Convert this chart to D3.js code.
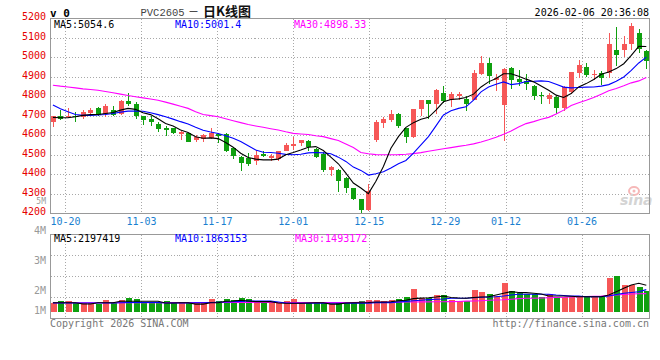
<!DOCTYPE html>
<html><head><meta charset="utf-8">
<script src="https://cdn.jsdelivr.net/npm/d3@7"></script>
<style>body{margin:0;background:#fff}svg{display:block}</style>
</head><body><svg id="c" width="660" height="360"></svg>
<script>
const dates = ["10-16","10-17","10-20","10-21","10-22","10-23","10-24","10-27","10-28","10-29","10-30","10-31",
"11-03","11-04","11-05","11-06","11-07","11-10","11-11","11-12","11-13","11-14","11-17","11-18","11-19","11-20","11-21","11-24","11-25","11-26","11-27","11-28",
"12-01","12-02","12-03","12-04","12-05","12-08","12-09","12-10","12-11","12-12","12-15","12-16","12-17","12-18","12-19","12-22","12-23","12-24","12-25","12-26","12-29","12-30","12-31",
"01-05","01-06","01-07","01-08","01-09","01-12","01-13","01-14","01-15","01-16","01-19","01-20","01-21","01-22","01-23","01-26","01-27","01-28","01-29","01-30",
"02-02","02-03","02-04","02-05","02-06"];
const open = [4670,4700,4692,4700,4695,4715,4740,4707,4728,4707, 4777,4763,4698,4685,4660,4640,4635,4605,4610,4576, 4580,4585,4605,4605,4535,4490,4482,4468,4502,4483, 4478,4520,4547,4560,4570,4528,4506,4420,4420,4383, 4330,4275,4215,4577,4662,4678,4708,4636,4592,4733, 4780,4758,4818,4780,4800,4785,4783,4913,4972,4883, 4755,4945,4890,4880,4855,4808,4788,4797,4742,4823, 4920,4950,4912,4920,4920,5040,5035,5070,5127,5030];
const high = [4700,4730,4740,4722,4728,4742,4745,4760,4748,4780, 4815,4770,4700,4700,4666,4648,4640,4620,4613,4600, 4608,4636,4610,4610,4540,4492,4508,4525,4520,4502, 4520,4558,4590,4577,4577,4533,4512,4445,4428,4386, 4330,4275,4348,4678,4695,4728,4712,4640,4737,4783, 4783,4840,4852,4823,4823,4800,4937,5005,4996,4916, 4945,4950,4936,4916,4858,4823,4815,4803,4852,4926, 4986,4972,4936,4928,5127,5155,5107,5177,5147,5040];
const low = [4645,4677,4690,4670,4685,4707,4698,4694,4698,4703, 4750,4683,4655,4650,4618,4598,4605,4576,4568,4568, 4568,4580,4562,4512,4478,4415,4444,4447,4488,4470, 4470,4520,4525,4543,4518,4482,4410,4392,4310,4305, 4270,4200,4212,4568,4640,4670,4636,4563,4588,4697, 4685,4707,4764,4743,4780,4725,4780,4908,4865,4828, 4573,4840,4854,4832,4780,4762,4763,4708,4724,4813, 4895,4897,4882,4857,4895,4955,5000,5035,5023,4940];
const close = [4697,4683,4700,4692,4717,4732,4706,4750,4706,4775, 4760,4700,4678,4670,4632,4628,4610,4617,4568,4590, 4600,4610,4597,4520,4495,4456,4454,4500,4493,4495, 4517,4550,4556,4577,4540,4490,4423,4437,4364,4328, 4274,4215,4313,4670,4683,4708,4650,4590,4737,4780, 4758,4831,4776,4811,4812,4760,4920,4972,4905,4896, 4942,4882,4872,4865,4800,4800,4806,4742,4848,4923, 4960,4910,4916,4895,5066,5012,5070,5158,5044,4980];
const ma5 = [4692,4690,4690,4695,4702,4706,4707,4712,4717,4729, 4738,4733,4716,4706,4685,4661,4648,4627,4614,4593, 4585,4587,4583,4563,4539,4508,4486,4478,4474,4474, 4478,4500,4512,4525,4539,4542,4522,4488,4454,4406, 4355,4330,4301,4364,4440,4534,4593,4641,4665,4682, 4692,4729,4772,4784,4787,4794,4811,4848,4874,4891, 4916,4916,4903,4888,4874,4853,4831,4806,4794,4814, 4848,4865,4886,4913,4925,4942,4967,5010,5056,5055];
const ma10 = [4755,4736,4721,4707,4702,4702,4704,4707,4712,4719, 4724,4724,4723,4716,4706,4695,4683,4670,4658,4641, 4626,4617,4609,4598,4585,4568,4546,4525,4513,4512, 4508,4502,4500,4503,4510,4512,4510,4505,4488,4466, 4437,4420,4396,4403,4413,4432,4454,4471,4508,4551, 4593,4648,4704,4726,4738,4746,4780,4823,4848,4862, 4874,4860,4865,4876,4877,4879,4876,4862,4847,4843, 4845,4847,4848,4852,4860,4877,4899,4933,4971,5001];
const ma30 = [4857,4852,4848,4843,4838,4835,4831,4825,4818,4811, 4804,4798,4792,4786,4780,4770,4760,4749,4738,4721, 4707,4701,4695,4685,4675,4665,4655,4648,4641,4634, 4627,4618,4610,4607,4604,4598,4593,4583,4573,4555, 4537,4512,4505,4501,4500,4500,4501,4503,4506,4511, 4518,4525,4531,4537,4543,4549,4556,4566,4577,4590, 4605,4622,4642,4660,4670,4682,4692,4709,4729,4753, 4767,4780,4794,4811,4828,4840,4854,4869,4879,4897];
// volume in millions of lots
const volume = [0.74,0.88,0.88,0.74,0.74,0.74,0.63,0.97,0.74,0.97, 1.13,1.05,0.80,0.80,0.80,0.88,0.69,0.74,0.74,0.74, 0.80,1.05,0.88,1.05,0.97,1.13,1.05,0.83,0.83,0.83, 0.74,0.88,1.05,0.74,0.74,0.74,0.74,0.63,0.74,0.74, 0.74,0.88,0.97,0.97,0.88,0.97,1.05,1.22,1.88,1.13, 1.13,1.38,1.38,0.97,0.88,0.88,1.80,1.63,1.47,1.30, 2.41,1.72,1.53,1.47,1.47,1.24,1.44,1.19,1.24,1.24, 1.30,1.19,1.24,1.19,2.83,2.99,2.22,2.22,2.05,1.74];
const volMa5 = [0.74,0.74,0.74,0.74,0.63,0.63,0.74,0.74,0.74,0.86, 0.86,0.86,0.86,0.86,0.86,0.72,0.72,0.74,0.74,0.62, 0.62,0.74,0.74,0.86,0.88,0.94,0.88,0.83,0.83,0.83, 0.72,0.69,0.69,0.69,0.72,0.74,0.74,0.62,0.62,0.72, 0.74,0.74,0.76,0.80,0.80,0.82,0.91,0.95,1.08,1.12, 1.16,1.22,1.30,1.18,1.13,1.11,1.18,1.22,1.24,1.38, 1.53,1.66,1.59,1.58,1.53,1.47,1.30,1.30,1.30,1.28, 1.24,1.24,1.24,1.24,1.38,1.66,1.94,2.22,2.36,2.20];
const volMa10 = [0.72,0.72,0.72,0.72,0.72,0.72,0.72,0.72,0.72,0.74, 0.76,0.76,0.76,0.76,0.76,0.72,0.72,0.72,0.72,0.74, 0.74,0.76,0.78,0.80,0.82,0.85,0.88,0.88,0.88,0.88, 0.80,0.72,0.70,0.70,0.70,0.70,0.70,0.70,0.70,0.70, 0.70,0.70,0.70,0.75,0.75,0.75,0.80,0.85,0.90,0.95, 1.00,1.03,1.05,1.11,1.11,1.11,1.15,1.19,1.22,1.24, 1.30,1.38,1.44,1.44,1.44,1.44,1.44,1.38,1.34,1.30, 1.30,1.24,1.24,1.24,1.30,1.43,1.53,1.59,1.66,1.83];
const volMa30 = [0.74,0.74,0.74,0.74,0.74,0.74,0.74,0.74,0.74,0.74, 0.74,0.74,0.74,0.75,0.75,0.75,0.75,0.75,0.75,0.75, 0.75,0.75,0.76,0.76,0.76,0.76,0.76,0.76,0.76,0.76, 0.76,0.76,0.76,0.76,0.76,0.76,0.76,0.76,0.76,0.76, 0.76,0.77,0.77,0.78,0.78,0.79,0.79,0.80,0.80,0.81, 0.81,0.82,0.82,0.83,0.84,0.87,0.88,0.91,0.94,0.97, 0.99,1.03,1.08,1.11,1.11,1.13,1.15,1.18,1.19,1.22, 1.24,1.26,1.28,1.30,1.34,1.38,1.43,1.47,1.49,1.50];
const priceTicks = [5200,5100,5000,4900,4800,4700,4600,4500,4400,4300,4200];
const dateTicks = ["10-20","11-03","11-17","12-01","12-15","12-29","01-12","01-26"];
const volTicks = [5,4,3,2,1];
const volTickLabels = ["5M","4M","3M","2M","1M"];

const RED = "#f65757", GREEN = "#0fa00f";
const FONT = "'DejaVu Sans Mono', monospace";
const svg = d3.select("#c");
const P = {l:50.5, r:649.5, t:18.5, b:213.5};
const V = {t:234.5, b:318.5};
const N = dates.length;
const xC = d3.scaleLinear().domain([0, N-1]).range([52.9, 646.3]);
const xG = d3.scaleLinear().domain([0, N-1]).range([50.3, 650.3]);
const yP = d3.scaleLinear().domain([4200, 5200]).range([213.3, 18.3]);
const yV = d3.scaleLinear().domain([0, 1]).range([311.6, 299.6]);
const yVLab = d3.scaleLinear().domain([1,2,3,4,5]).range([314,294,264,234,204]);
const px = v => Math.round(v) + 0.5;

// grids
const g = svg.append("g").attr("stroke", "#a8a8a8").attr("stroke-dasharray", "1,2").attr("shape-rendering","crispEdges");
priceTicks.slice(1, -1).forEach(v => g.append("line").attr("x1", P.l).attr("x2", P.r).attr("y1", px(yP(v))).attr("y2", px(yP(v))));
dateTicks.forEach(d => {
  const x = px(xG(dates.indexOf(d)));
  g.append("line").attr("x1", x).attr("x2", x).attr("y1", P.t).attr("y2", P.b);
  g.append("line").attr("x1", x).attr("x2", x).attr("y1", V.t).attr("y2", V.b);
});
[1,2,3].forEach(k => { const y = V.t + (V.b - V.t) * k / 4; g.append("line").attr("x1", P.l).attr("x2", P.r).attr("y1", y).attr("y2", y); });

// watermark
const wm = svg.append("g");
wm.append("ellipse").attr("cx", 634).attr("cy", 191).attr("rx", 5).attr("ry", 4).attr("fill", "none").attr("stroke", "#f6b8b8").attr("stroke-width", 2);
wm.append("circle").attr("cx", 634).attr("cy", 191).attr("r", 1.5).attr("fill", "#f6b8b8");
wm.append("text").attr("x", 620).attr("y", 205).attr("font-family", "'DejaVu Sans', sans-serif").attr("font-size", 14).attr("font-weight", "bold").attr("font-style", "italic").attr("fill", "#d4d4d4").text("sina");

// candles + volume bars
const idx = d3.range(N);
const cg = svg.append("g").attr("shape-rendering", "crispEdges");
idx.forEach(i => {
  const up = close[i] >= open[i];
  const col = up ? RED : GREEN;
  const xc = Math.round(xC(i));
  cg.append("line").attr("x1", xc + 0.5).attr("x2", xc + 0.5).attr("y1", yP(high[i])).attr("y2", yP(low[i])).attr("stroke", col);
  const y0 = yP(Math.max(open[i], close[i])), y1 = yP(Math.min(open[i], close[i]));
  cg.append("rect").attr("x", xc - 2).attr("width", 5).attr("y", y0).attr("height", Math.max(1, y1 - y0)).attr("fill", col);
  cg.append("rect").attr("x", xc - 2.5).attr("width", 6).attr("y", yV(volume[i])).attr("height", yV(0) - yV(volume[i])).attr("fill", col);
});

// MA lines
const lineP = arr => d3.line().x((d, i) => xC(i)).y(d => yP(d))(arr);
const lineV = arr => d3.line().x((d, i) => xC(i)).y(d => yV(d))(arr);
[[ma30, "#ff00ff"], [ma10, "#0000ff"], [ma5, "#000000"]].forEach(([a, c]) =>
  svg.append("path").attr("d", lineP(a)).attr("fill", "none").attr("stroke", c).attr("stroke-width", 1.1));
[[volMa30, "#ff00ff"], [volMa10, "#0000ff"], [volMa5, "#000000"]].forEach(([a, c]) =>
  svg.append("path").attr("d", lineV(a)).attr("fill", "none").attr("stroke", c).attr("stroke-width", 1.1));

// borders
svg.append("rect").attr("x", P.l).attr("y", P.t).attr("width", P.r - P.l).attr("height", P.b - P.t).attr("fill", "none").attr("stroke", "#999").attr("shape-rendering","crispEdges");
svg.append("rect").attr("x", P.l).attr("y", V.t).attr("width", P.r - P.l).attr("height", V.b - V.t).attr("fill", "none").attr("stroke", "#999").attr("shape-rendering","crispEdges");

// text helpers
const T = (x, y, s, fill, anchor="start", extra={}) => {
  const t = svg.append("text").attr("x", x).attr("y", y).attr("font-family", FONT).attr("font-size", 10).attr("fill", fill).attr("text-anchor", anchor).text(s);
  Object.entries(extra).forEach(([k, v]) => t.attr(k, v));
  return t;
};
// price axis labels
priceTicks.forEach(v => T(46, yP(v) + 2, String(v), "#e60000", "end"));
// volume labels
volTicks.forEach((v, i) => T(46, yVLab(v), volTickLabels[i], "#999", "end", v === 5 ? {"font-size": 8} : {}));
// date labels
dateTicks.forEach(d => T(xG(dates.indexOf(d)), 225, d, "#1a7fd0", "middle"));
// header
T(50, 17, "v 0", "#000", "start", {"font-weight": "bold", "font-size": 11});
svg.append("text").attr("x", 140.5).attr("y", 15.5).attr("fill", "#444").attr("font-family", "'Liberation Mono', monospace").attr("font-size", 10.5).text("PVC2605");
svg.append("text").attr("x", 188).attr("y", 15.5).attr("fill", "#222").attr("font-family", "'Noto Sans CJK SC', sans-serif").attr("font-size", 11).text("－");
svg.append("text").attr("x", 203).attr("y", 16).attr("fill", "#111").attr("font-family", "'Noto Sans CJK SC', sans-serif").attr("font-size", 13).attr("font-weight", "bold").text("日K线图");
T(649, 16, "2026-02-06 20:36:08", "#000", "end");
// legends
T(54, 27.5, "MA5:5054.6", "#000");
T(175, 27.5, "MA10:5001.4", "#0000ff");
T(294, 27.5, "MA30:4898.33", "#ff00ff");
T(54, 241.5, "MA5:2197419", "#000");
T(175, 241.5, "MA10:1863153", "#0000ff");
T(295, 241.5, "MA30:1493172", "#ff00ff");
// footer
T(50, 326.5, "Copyright 2026 SINA.COM", "#777");
T(649, 326.5, "http://finance.sina.com.cn", "#777", "end");
</script></body></html>
